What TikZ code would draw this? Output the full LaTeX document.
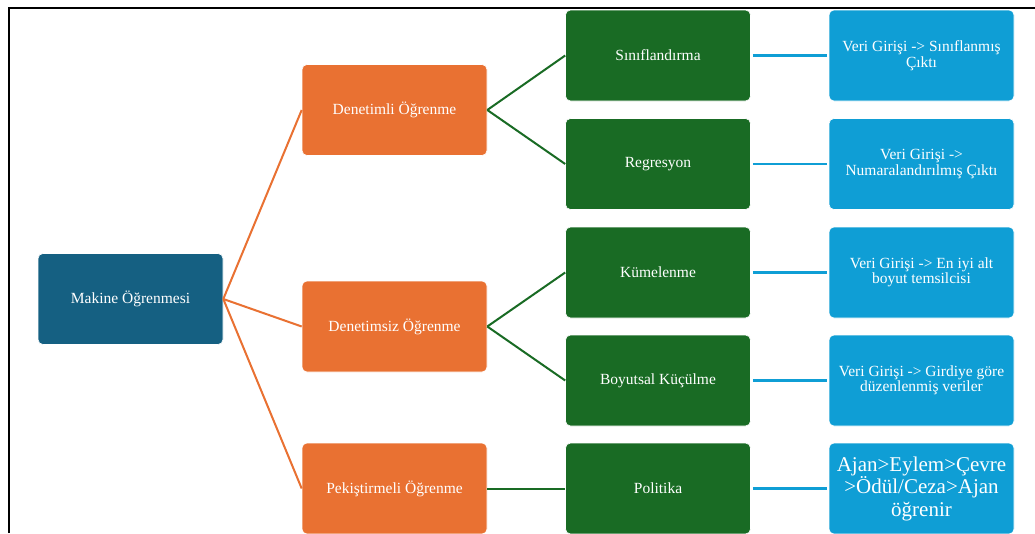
\documentclass[tikz,border=0pt]{standalone}
\usepackage{fontspec}
\setmainfont{Liberation Serif}
\definecolor{cteal}{HTML}{156082}
\definecolor{corange}{HTML}{E97132}
\definecolor{cgreen}{HTML}{196B24}
\definecolor{cblue}{HTML}{0F9ED5}
\begin{document}
\begin{tikzpicture}[x=1pt,y=-1pt,
  box/.style={rectangle, rounded corners=5pt, draw=white, line width=0.6pt,
    minimum width=185pt, minimum height=91pt, inner sep=2pt, align=center,
    text=white, font=\fontsize{15.5}{16}\selectfont},
  rootbox/.style={box, fill=cteal},
  catbox/.style={box, fill=corange},
  subbox/.style={box, fill=cgreen},
  outbox/.style={box, fill=cblue, font=\fontsize{15.5}{15.5}\selectfont},
  bigout/.style={outbox, font=\fontsize{21}{22.5}\selectfont},
  olink/.style={draw=corange, line width=2pt},
  glink/.style={draw=cgreen, line width=2pt},
  blink/.style={draw=cblue, line width=2.4pt, shorten <=2pt, shorten >=2pt}]
\useasboundingbox (0,0) rectangle (1035,533);
\fill[white] (0,0) rectangle (1035,533);
\draw[line width=1.5pt] (9,533) -- (9,8) -- (1035,8);

\node[rootbox] (root) at (130.5,299) {Makine Öğrenmesi};

\node[catbox] (sup) at (394.5,110) {Denetimli Öğrenme};
\node[catbox] (uns) at (394.5,326.5) {Denetimsiz Öğrenme};
\node[catbox] (rl) at (394.5,488.5) {Pekiştirmeli Öğrenme};

\node[subbox] (cls) at (658,55.5) {Sınıflandırma};
\node[subbox] (reg) at (658,164) {Regresyon};
\node[subbox] (clu) at (658,272.5) {Kümelenme};
\node[subbox] (dim) at (658,380.5) {Boyutsal Küçülme};
\node[subbox] (pol) at (658,488.5) {Politika};

\node[outbox] (o1) at (921.5,55.5) {Veri Girişi -> Sınıflanmış\\Çıktı};
\node[outbox] (o2) at (921.5,164) {Veri Girişi ->\\Numaralandırılmış Çıktı};
\node[outbox] (o3) at (921.5,272.5) {Veri Girişi -> En iyi alt\\boyut temsilcisi};
\node[outbox] (o4) at (921.5,380.5) {Veri Girişi -> Girdiye göre\\düzenlenmiş veriler};
\node[bigout] (o5) at (921.5,488.5) {Ajan>Eylem>Çevre\\>Ödül/Ceza>Ajan\\öğrenir};

\draw[olink] (root.east) -- (sup.west);
\draw[olink] (root.east) -- (uns.west);
\draw[olink] (root.east) -- (rl.west);

\draw[glink] (sup.east) -- (cls.west);
\draw[glink] (sup.east) -- (reg.west);
\draw[glink] (uns.east) -- (clu.west);
\draw[glink] (uns.east) -- (dim.west);
\draw[glink] (rl.east) -- (pol.west);

\draw[blink] (cls.east) -- (o1.west);
\draw[blink] (reg.east) -- (o2.west);
\draw[blink] (clu.east) -- (o3.west);
\draw[blink] (dim.east) -- (o4.west);
\draw[blink] (pol.east) -- (o5.west);
\end{tikzpicture}
\end{document}
